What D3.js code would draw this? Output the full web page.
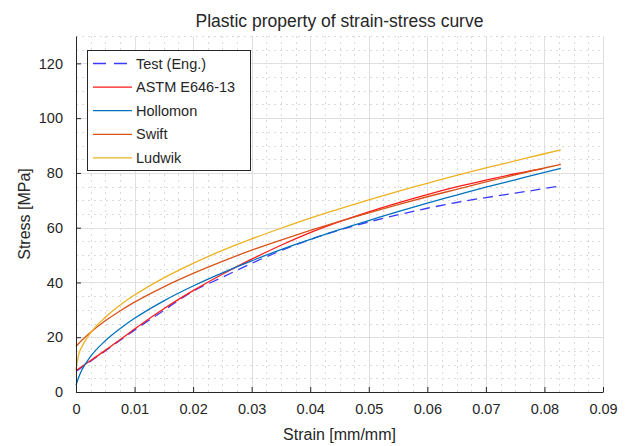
<!DOCTYPE html>
<html>
<head>
<meta charset="utf-8">
<script src="https://cdn.jsdelivr.net/npm/d3@7"></script>
<style>
body { margin: 0; background: #fff; }
text { font-family: "Liberation Sans", Arial, sans-serif; fill: #262626; }
</style>
</head>
<body>
<svg id="chart"></svg>
<script>
var svgw = 638
var svgh = 446

// data
var seriesNames = ["Test (Eng.)", "ASTM E646-13", "Hollomon", "Swift", "Ludwik"]
var seriesColors = ["#3a3aff", "#ff1a1a", "#0072bd", "#d95319", "#edb120"]

var strainTest = [0, 0.005, 0.01, 0.015, 0.02, 0.025, 0.03, 0.035, 0.04, 0.045, 0.05, 0.055, 0.06, 0.065, 0.07, 0.075, 0.08, 0.0828]
var stressTest = [7.5, 15.0, 22.6, 29.8, 36.8, 41.9, 47.0, 51.6, 55.7, 59.1, 62.1, 64.7, 67.1, 69.2, 71.0, 72.6, 74.3, 75.3]

var strainAstm = [0, 0.0025, 0.005, 0.0075, 0.01, 0.015, 0.02, 0.025, 0.03, 0.035, 0.04, 0.045, 0.05, 0.055, 0.06, 0.065, 0.07, 0.075, 0.0797]
var stressAstm = [7.8, 11.5, 15.2, 19.1, 23.0, 30.4, 37.0, 43.0, 48.5, 53.6, 58.2, 62.2, 65.8, 69.1, 72.1, 74.9, 77.4, 79.7, 81.6]

var strainFit = [0, 0.0005, 0.001, 0.0025, 0.005, 0.0075, 0.01, 0.015, 0.02, 0.025, 0.03, 0.035, 0.04, 0.045, 0.05, 0.055, 0.06, 0.065, 0.07, 0.075, 0.08, 0.0828]
var stressHollomon = [2.5, 5.6, 8.0, 13.0, 18.7, 23.1, 26.9, 33.3, 38.7, 43.5, 47.9, 52.0, 55.7, 59.3, 62.6, 65.9, 69.0, 71.9, 74.8, 77.5, 80.2, 81.7]
var stressSwift = [16.6, 17.8, 18.9, 21.8, 26.0, 29.6, 32.8, 38.4, 43.3, 47.7, 51.8, 55.5, 59.0, 62.3, 65.4, 68.4, 71.3, 74.0, 76.7, 79.3, 81.8, 83.1]
var stressLudwik = [8.1, 14.0, 16.5, 21.6, 27.3, 31.7, 35.4, 41.7, 47.0, 51.7, 55.9, 59.8, 63.5, 66.9, 70.2, 73.3, 76.2, 79.1, 81.8, 84.4, 87.0, 88.4]

var xTicks = [0, 0.01, 0.02, 0.03, 0.04, 0.05, 0.06, 0.07, 0.08, 0.09]
var xTickLabels = ["0", "0.01", "0.02", "0.03", "0.04", "0.05", "0.06", "0.07", "0.08", "0.09"]
var yTicks = [0, 20, 40, 60, 80, 100, 120]

var makeTranslateString = function(x,y)
{
    return "translate("+x+","+y+")";
}

var zip = function(xs, ys)
{
    return xs.map(function(x,i){return {x:x, y:ys[i]}})
}

var allSeries = [
    zip(strainTest, stressTest),
    zip(strainAstm, stressAstm),
    zip(strainFit, stressHollomon),
    zip(strainFit, stressSwift),
    zip(strainFit, stressLudwik)
]

var margins = {left: 76, top: 36}
var graphDim = {width: 527, height: 356}

var svg = d3.select("#chart")
    .attr("width", svgw)
    .attr("height", svgh)

svg.append("rect").attr("width", svgw).attr("height", svgh).attr("fill", "#fff")

var target = svg.append("g")
    .attr("transform", makeTranslateString(margins.left, margins.top))

var xScale = d3.scaleLinear().domain([0, 0.09]).range([0, graphDim.width])
var yScale = d3.scaleLinear().domain([0, 130]).range([graphDim.height, 0])

// grid: minor dotted, then major solid
var xMinor = d3.range(0, 0.0901, 0.0025).filter(function(d){return Math.abs(d/0.01 - Math.round(d/0.01)) > 0.01})
var yMinor = d3.range(5, 131, 5).filter(function(d){return d % 20 != 0})

target.append("g").selectAll("line")
    .data(xMinor).enter().append("line")
    .attr("x1", function(d){return Math.round(xScale(d))+0.5})
    .attr("x2", function(d){return Math.round(xScale(d))+0.5})
    .attr("y1", 0).attr("y2", graphDim.height)
    .attr("stroke", "#dadada").attr("stroke-dasharray", "2,4")

target.append("g").selectAll("line")
    .data(yMinor).enter().append("line")
    .attr("y1", function(d){return Math.round(yScale(d))+0.5})
    .attr("y2", function(d){return Math.round(yScale(d))+0.5})
    .attr("x1", 0).attr("x2", graphDim.width)
    .attr("stroke", "#dadada").attr("stroke-dasharray", "2,4")

target.append("g").selectAll("line")
    .data(xTicks.slice(1)).enter().append("line")
    .attr("x1", function(d){return Math.round(xScale(d))+0.5})
    .attr("x2", function(d){return Math.round(xScale(d))+0.5})
    .attr("y1", 0).attr("y2", graphDim.height)
    .attr("stroke", "#dfdfdf")

target.append("g").selectAll("line")
    .data(yTicks.slice(1)).enter().append("line")
    .attr("y1", function(d){return Math.round(yScale(d))+0.5})
    .attr("y2", function(d){return Math.round(yScale(d))+0.5})
    .attr("x1", 0).attr("x2", graphDim.width)
    .attr("stroke", "#dfdfdf")

// curves
var line = d3.line()
    .x(function(d){return xScale(d.x)})
    .y(function(d){return yScale(d.y)})
    .curve(d3.curveMonotoneX)

target.append("g").selectAll("path")
    .data(allSeries).enter().append("path")
    .attr("d", line)
    .attr("fill", "none")
    .attr("stroke", function(d,i){return seriesColors[i]})
    .attr("stroke-width", 1.3)
    .attr("stroke-dasharray", function(d,i){return i==0 ? "10,6" : null})

// axes (MATLAB style, ticks inward, no box)
var xAxis = d3.axisBottom(xScale).tickValues(xTicks)
    .tickFormat(function(d,i){return xTickLabels[i]})
    .tickSizeInner(-5).tickSizeOuter(0).tickPadding(12)
var gx = target.append("g")
    .attr("transform", makeTranslateString(0, graphDim.height))
    .call(xAxis)
gx.select(".domain").attr("stroke", "#262626")
gx.selectAll(".tick line").attr("stroke", "#262626")
gx.selectAll("text").style("font-size", "14.5px").attr("fill", "#262626")

var yAxis = d3.axisLeft(yScale).tickValues(yTicks)
    .tickSizeInner(-5).tickSizeOuter(0).tickPadding(13)
var gy = target.append("g").call(yAxis)
gy.select(".domain").attr("stroke", "#262626")
gy.selectAll(".tick line").attr("stroke", "#262626")
gy.selectAll("text").style("font-size", "14.5px").attr("fill", "#262626")

// labels
svg.append("text")
    .text("Plastic property of strain-stress curve")
    .attr("text-anchor", "middle")
    .attr("x", margins.left + graphDim.width/2)
    .attr("y", 27)
    .style("font-size", "17.5px")
    .attr("fill", "#000")

svg.append("text")
    .text("Strain [mm/mm]")
    .attr("text-anchor", "middle")
    .attr("x", margins.left + graphDim.width/2)
    .attr("y", 440)
    .style("font-size", "16px")

svg.append("text")
    .text("Stress [MPa]")
    .attr("text-anchor", "middle")
    .attr("transform", makeTranslateString(30, margins.top + graphDim.height/2) + " rotate(-90)")
    .style("font-size", "16px")

// legend
var legend = svg.append("g")
    .attr("transform", makeTranslateString(87, 50))

legend.append("rect")
    .attr("x", 0.5).attr("y", 0.5)
    .attr("width", 163).attr("height", 120)
    .attr("fill", "#fff")
    .attr("stroke", "#262626")

var entries = legend.selectAll("g.entry")
    .data(seriesNames).enter().append("g")
    .attr("class", "entry")
    .attr("transform", function(d,i){return makeTranslateString(0, 13.5 + i*23.6)})

entries.append("line")
    .attr("x1", 6).attr("x2", 45)
    .attr("y1", 0).attr("y2", 0)
    .attr("stroke", function(d,i){return seriesColors[i]})
    .attr("stroke-width", 1.3)
    .attr("stroke-dasharray", function(d,i){return i==0 ? "13,8" : null})

entries.append("text")
    .text(function(d){return d})
    .attr("x", 49)
    .attr("y", 5)
    .style("font-size", "14.5px")
    .attr("fill", "#000")
</script>
</body>
</html>
